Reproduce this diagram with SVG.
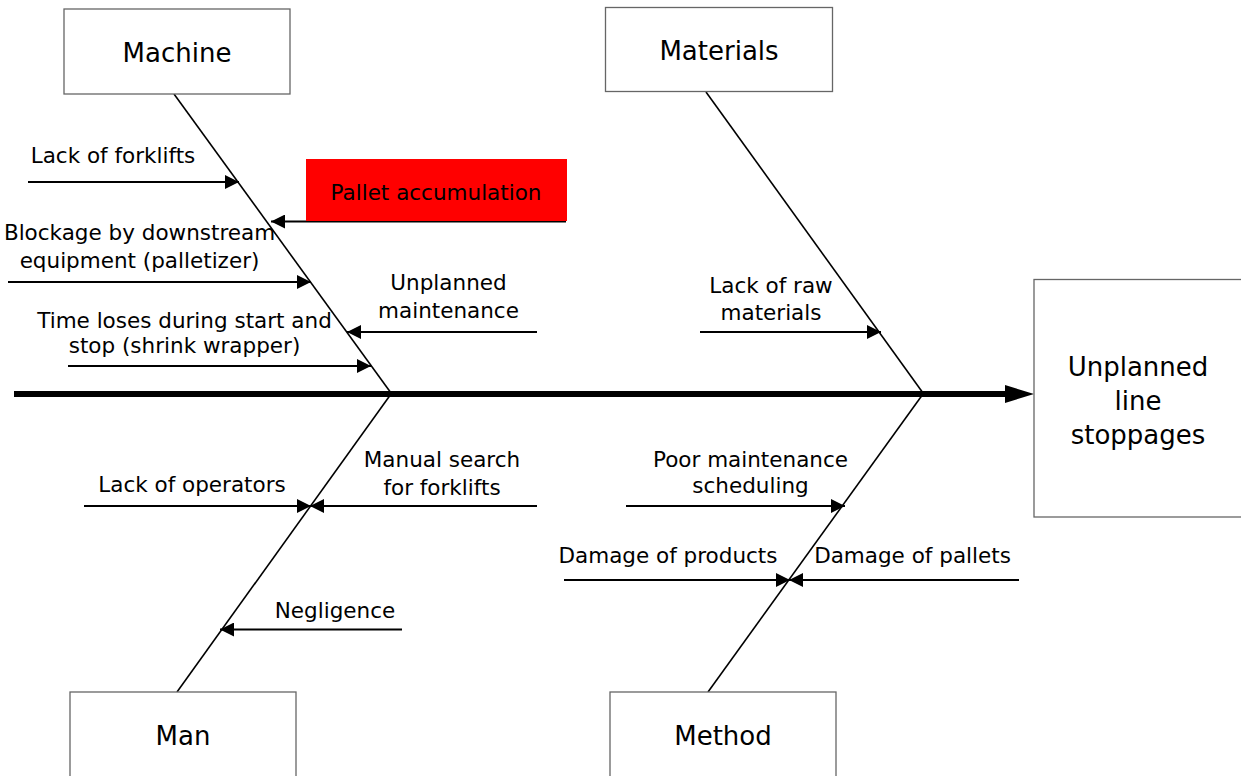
<svg xmlns="http://www.w3.org/2000/svg" width="1241" height="776" viewBox="0 0 1241 776">
  <style>
    .box { fill: #ffffff; stroke: #666666; stroke-width: 1.3; }
    .title { font-family: "DejaVu Sans", "Liberation Sans", sans-serif; font-size: 26px; fill: #000; text-anchor: middle; }
    .lbl { font-family: "DejaVu Sans", "Liberation Sans", sans-serif; font-size: 21.5px; fill: #000; text-anchor: middle; }
    .bone { stroke: #000; stroke-width: 1.6; fill: none; }
    .cause { stroke: #000; stroke-width: 2; fill: none; marker-end: url(#head); }
  </style>
  <defs>
    <marker id="head" markerUnits="userSpaceOnUse" markerWidth="14" markerHeight="14" refX="14" refY="7" viewBox="0 0 14 14" orient="auto">
      <path d="M0,0 L14,7 L0,14 Z" fill="#000"/>
    </marker>
  </defs>

  <!-- connectors: spine, category bones and cause arrows -->
  <g id="connectors">
    <line x1="14" y1="394" x2="1008" y2="394" stroke="#000" stroke-width="6"/>
    <polygon points="1005,385 1034,394 1005,403" fill="#000"/>

    <line class="bone" x1="174" y1="94" x2="391" y2="393"/>
    <line class="bone" x1="706" y1="92" x2="923" y2="393"/>
    <line class="bone" x1="391" y1="394" x2="177" y2="692"/>
    <line class="bone" x1="923" y1="394" x2="708" y2="692"/>

    <line class="cause" x1="28" y1="182" x2="239" y2="182"/>
    <line class="cause" x1="566" y1="221.5" x2="271" y2="221.5"/>
    <line class="cause" x1="8" y1="282" x2="311" y2="282"/>
    <line class="cause" x1="537" y1="332" x2="347" y2="332"/>
    <line class="cause" x1="68" y1="366" x2="371" y2="366"/>
    <line class="cause" x1="700" y1="332" x2="881" y2="332"/>

    <line class="cause" x1="84" y1="506" x2="311" y2="506"/>
    <line class="cause" x1="537" y1="506" x2="310" y2="506"/>
    <line class="cause" x1="402" y1="629.5" x2="220" y2="629.5"/>
    <line class="cause" x1="626" y1="506" x2="845" y2="506"/>
    <line class="cause" x1="564" y1="580" x2="790" y2="580"/>
    <line class="cause" x1="1019" y1="580" x2="789" y2="580"/>
  </g>

  <g id="machine">
    <rect class="box" x="64" y="9" width="226" height="85"/>
    <text class="title" x="177" y="62">Machine</text>
  </g>
  <g id="materials">
    <rect class="box" x="605.5" y="7.5" width="227" height="84"/>
    <text class="title" x="719" y="60">Materials</text>
  </g>
  <g id="man">
    <rect class="box" x="70" y="692" width="226" height="86"/>
    <text class="title" x="183" y="745">Man</text>
  </g>
  <g id="method">
    <rect class="box" x="610" y="692" width="226" height="86"/>
    <text class="title" x="723" y="745">Method</text>
  </g>
  <g id="effect">
    <rect class="box" x="1034" y="279.5" width="220" height="237.5"/>
    <text class="title" x="1138" y="376">Unplanned</text>
    <text class="title" x="1138" y="410">line</text>
    <text class="title" x="1138" y="444">stoppages</text>
  </g>

  <g id="pallet-accumulation">
    <rect x="306" y="159" width="261" height="62" fill="#ff0000"/>
    <text class="lbl" x="436" y="200">Pallet accumulation</text>
  </g>

  <g id="lack-of-forklifts">
    <text class="lbl" x="113" y="163">Lack of forklifts</text>
  </g>
  <g id="blockage">
    <text class="lbl" x="139.5" y="240">Blockage by downstream</text>
    <text class="lbl" x="139.5" y="268">equipment (palletizer)</text>
  </g>
  <g id="unplanned-maintenance">
    <text class="lbl" x="448.5" y="290">Unplanned</text>
    <text class="lbl" x="448.5" y="318">maintenance</text>
  </g>
  <g id="time-loses">
    <text class="lbl" x="184.5" y="328">Time loses during start and</text>
    <text class="lbl" x="184.5" y="353">stop (shrink wrapper)</text>
  </g>
  <g id="lack-of-raw-materials">
    <text class="lbl" x="771" y="293">Lack of raw</text>
    <text class="lbl" x="771" y="320">materials</text>
  </g>
  <g id="lack-of-operators">
    <text class="lbl" x="192" y="492">Lack of operators</text>
  </g>
  <g id="manual-search">
    <text class="lbl" x="442" y="467">Manual search</text>
    <text class="lbl" x="442" y="495">for forklifts</text>
  </g>
  <g id="negligence">
    <text class="lbl" x="335" y="618">Negligence</text>
  </g>
  <g id="poor-maintenance">
    <text class="lbl" x="750.5" y="467">Poor maintenance</text>
    <text class="lbl" x="750.5" y="493">scheduling</text>
  </g>
  <g id="damage-of-products">
    <text class="lbl" x="668" y="563">Damage of products</text>
  </g>
  <g id="damage-of-pallets">
    <text class="lbl" x="912.5" y="563">Damage of pallets</text>
  </g>
</svg>
